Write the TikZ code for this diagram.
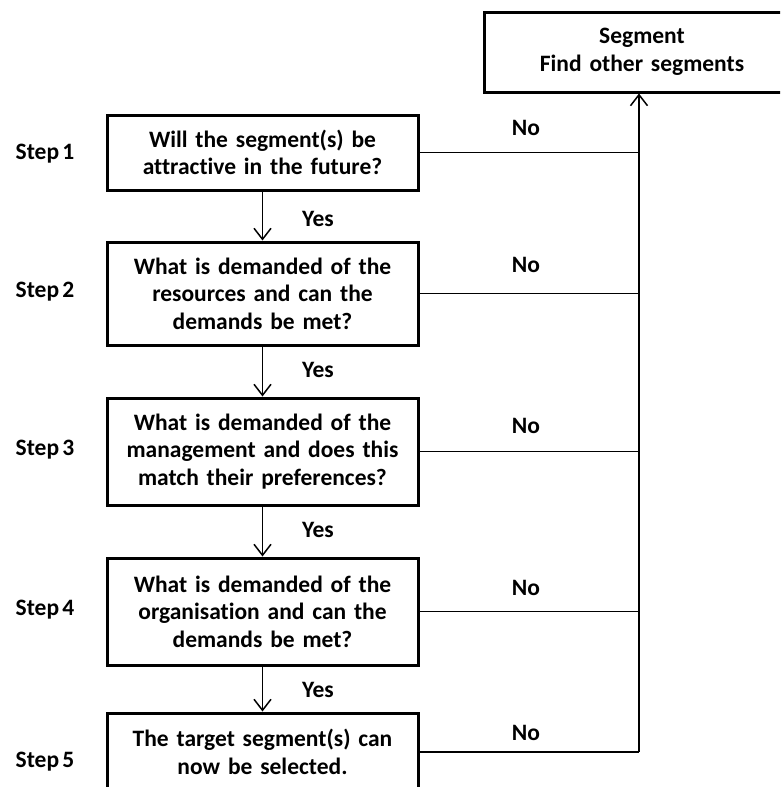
\documentclass[tikz,border=0pt]{standalone}
\usepackage{fontspec}
\setmainfont{Carlito}[Ligatures=NoCommon,WordSpace=0.6]
\usetikzlibrary{arrows.meta}
\begin{document}
\begin{tikzpicture}[x=1pt,y=-1pt,
  font=\fontsize{23.5}{27.5}\selectfont\bfseries,
  qbox/.style={draw,line width=3pt,minimum width=311pt,text width=305pt,align=center,inner sep=0pt},
  lbl/.style={inner sep=0pt,anchor=center},
  conn/.style={line width=1.5pt},
  arr/.style={line width=1.5pt,-{Straight Barb[length=11pt,width=17pt]}}]
\clip (0,0) rectangle (780,787);
\fill[white] (0,0) rectangle (780,787);

% outcome box for rejected segments
\node[qbox,minimum width=316pt,text width=310pt,minimum height=80pt] (top) at (642,52)
  {Segment\\Find other segments};

% the five screening questions
\node[qbox,minimum height=75pt] (b1) at (262.5,152.5)
  {Will the segment(s) be\\attractive in the future?};
\node[qbox,minimum height=103pt] (b2) at (262.5,293.5)
  {What is demanded of the\\resources and can the\\demands be met?};
\node[qbox,minimum height=107pt] (b3) at (262.5,451.5)
  {What is demanded of the\\management and does this\\match their preferences?};
\node[qbox,minimum height=107pt] (b4) at (262.5,611.5)
  {What is demanded of the\\organisation and can the\\demands be met?};
\node[qbox,minimum height=78pt] (b5) at (262.5,752)
  {The target segment(s) can\\now be selected.};

% step labels
\node[lbl] (s1) at (45,154) {Step 1};
\node[lbl] (s2) at (45,292) {Step 2};
\node[lbl] (s3) at (45,450) {Step 3};
\node[lbl] (s4) at (45,610) {Step 4};
\node[lbl] (s5) at (45,762) {Step 5};

% "Yes" path downwards
\draw[arr] (b1.south) -- (b2.north);
\draw[arr] (b2.south) -- (b3.north);
\draw[arr] (b3.south) -- (b4.north);
\draw[arr] (b4.south) -- (b5.north);
\node[lbl] (y1) at (318,219) {Yes};
\node[lbl] (y2) at (318,370) {Yes};
\node[lbl] (y3) at (318,530) {Yes};
\node[lbl] (y4) at (318,690) {Yes};

% "No" path to the right-hand spine
\coordinate (spine) at (639,752);
\draw[conn] (b1.east) -- (b1.east -| spine);
\draw[conn] (b2.east) -- (b2.east -| spine);
\draw[conn] (b3.east) -- (b3.east -| spine);
\draw[conn] (b4.east) -- (b4.east -| spine);
\draw[conn] (b5.east) -- (b5.east -| spine);
\draw[arr] (spine) -- (top.south -| spine);
\node[lbl] (n1) at (526,128) {No};
\node[lbl] (n2) at (526,265) {No};
\node[lbl] (n3) at (526,426) {No};
\node[lbl] (n4) at (526,588) {No};
\node[lbl] (n5) at (526,733) {No};
\end{tikzpicture}
\end{document}
